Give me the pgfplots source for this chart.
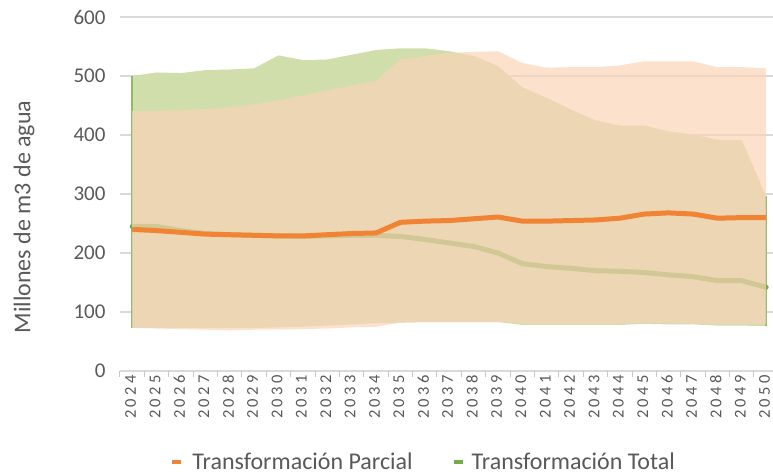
\documentclass[border=0pt]{standalone}
\usepackage{pgfplots}
\pgfplotsset{compat=1.18}
\usepackage{pgfplotstable}
\usepackage{fontspec}
\setmainfont{Carlito}
\definecolor{txt}{RGB}{89,89,89}
\definecolor{gridc}{RGB}{217,217,217}
\definecolor{axc}{RGB}{200,200,200}
\definecolor{gfill}{RGB}{207,222,171}
\definecolor{ofill}{RGB}{251,212,184}
\definecolor{oline}{RGB}{240,132,52}
\definecolor{gline}{RGB}{112,173,71}

% x: 0 = 2024 ... 26 = 2050
\pgfplotstableread{
x  om  gm
0  240 245
1  238 245
2  235 238
3  232 233
4  231 231
5  230 230
6  229 229
7  229 228
8  231 229
9  233 230
10 234 230
11 252 228
12 254 223
13 255 217
14 258 211
15 261 200
16 254 182
17 254 177
18 255 174
19 256 170
20 259 169
21 266 167
22 268 163
23 266 160
24 259 153
25 260 153
26 260 142
}\lines

\begin{document}
\begin{tikzpicture}
\begin{axis}[
  at={(0pt,0pt)}, anchor=south west,
  scale only axis, width=653pt, height=354pt,
  xmin=-0.5, xmax=26.28, ymin=0, ymax=600,
  axis line style={draw=none},
  ytick={0,100,...,600},
  ymajorgrids,
  major grid style={gridc, line width=1.3pt},
  xtick={0,...,26},
  xticklabels={2024,2025,2026,2027,2028,2029,2030,2031,2032,2033,2034,2035,2036,2037,2038,2039,2040,2041,2042,2043,2044,2045,2046,2047,2048,2049,2050},
  major tick length=0pt,
  minor xtick={-0.5,0.5,...,25.5},
  minor tick length=6pt,
  minor x tick style={axc, line width=1pt},
  tick align=outside,
  tick pos=left,
  /pgf/number format/assume math mode=true,
  yticklabel style={font=\fontsize{21}{24}\selectfont, text=txt, xshift=-11pt},
  xticklabel style={font=\fontsize{16.5}{20}\selectfont\addfontfeatures{LetterSpace=20}, text=txt, xshift=-1.5pt, yshift=-1pt, rotate=90, anchor=east},
  ylabel={Millones de m3 de agua},
  ylabel style={font=\fontsize{24}{28}\selectfont, text=txt, at={(axis description cs:-0.147,0.435)}, anchor=center},
  legend style={at={(axis description cs:0.465,-0.257)}, anchor=center, draw=none, fill=none,
     font=\fontsize{24}{28}\selectfont, text=txt, legend columns=2,
     /tikz/every even column/.append style={column sep=37pt}},
  legend cell align=left,
]
% Transformacion Total band (upper 2024->2050, then lower 2050->2024)
\addplot[fill=gfill, draw=none, forget plot] coordinates {
 (0,500) (1,506) (2,505) (3,510) (4,511) (5,513) (6,535) (7,527) (8,528) (9,536)
 (10,544) (11,547) (12,547) (13,542) (14,534) (15,517) (16,481) (17,463) (18,443)
 (19,425) (20,416) (21,416) (22,406) (23,401) (24,392) (25,391) (26,296)
 (26,76) (25,77) (24,77) (23,79) (22,79) (21,80) (20,78) (19,78) (18,78) (17,78)
 (16,78) (15,83) (14,83) (13,83) (12,83) (11,82) (10,81) (9,79) (8,77) (7,75)
 (6,74) (5,73) (4,73) (3,73) (2,73) (1,73) (0,73)} -- cycle;
\addplot[gline!80, line width=1.4pt, forget plot] coordinates {(0,73) (0,500)};
\addplot[gline!80, line width=1.4pt, forget plot] coordinates {(26,76) (26,296)};
\addplot[gline, line width=5pt, line cap=round, line join=round, forget plot] table[x=x, y=gm] {\lines};
% Transformacion Parcial band
\addplot[fill=ofill, fill opacity=0.7, draw=none, forget plot] coordinates {
 (0,441) (1,441) (2,442) (3,444) (4,447) (5,452) (6,459) (7,467) (8,476) (9,484)
 (10,492) (11,528) (12,534) (13,539) (14,541) (15,542) (16,522) (17,514) (18,515)
 (19,515) (20,518) (21,525) (22,525) (23,525) (24,515) (25,515) (26,513)
 (26,79) (25,80) (24,80) (23,80) (22,81) (21,81) (20,80) (19,80) (18,80) (17,80)
 (16,80) (15,83) (14,83) (13,83) (12,83) (11,82) (10,75) (9,74) (8,72) (7,71)
 (6,70) (5,70) (4,69) (3,70) (2,71) (1,72) (0,73)} -- cycle;
\addplot[oline, line width=5pt, line join=round, forget plot] table[x=x, y=om] {\lines};

\addlegendimage{legend image code/.code={\path[draw=none] (0pt,0pt) -- (18pt,0pt); \draw[oline, line width=4pt] (0pt,0pt) -- (9pt,0pt);}}
\addlegendentry{Transformación Parcial}
\addlegendimage{legend image code/.code={\path[draw=none] (0pt,0pt) -- (16pt,0pt); \draw[gline, line width=4pt] (0pt,0pt) -- (9pt,0pt);}}
\addlegendentry{Transformación Total}
\end{axis}
\pgfresetboundingbox
\path (-120pt,-104pt) rectangle (653pt,371pt);
\end{tikzpicture}
\end{document}
